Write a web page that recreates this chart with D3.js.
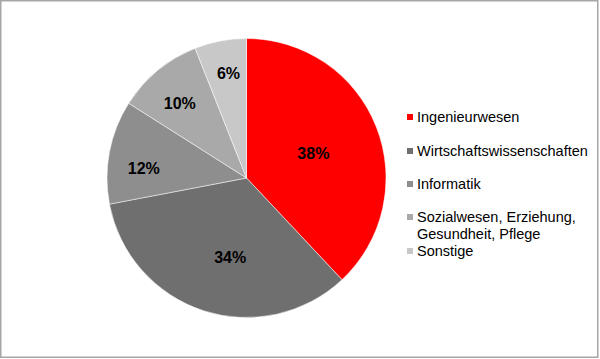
<!DOCTYPE html>
<html>
<head>
<meta charset="utf-8">
<script src="https://cdn.jsdelivr.net/npm/d3@7"></script>
<style>
  body { margin: 0; background: #fff; }
  svg { display: block; font-family: Arial, "Liberation Sans", sans-serif; }
</style>
</head>
<body>
<div id="pieChart"></div>
<script>
// chart data
var categories = ["Ingenieurwesen", "Wirtschaftswissenschaften", "Informatik",
                  "Sozialwesen, Erziehung, Gesundheit, Pflege", "Sonstige"];
var legendLines = [["Ingenieurwesen"], ["Wirtschaftswissenschaften"], ["Informatik"],
                   ["Sozialwesen, Erziehung,", "Gesundheit, Pflege"], ["Sonstige"]];
var shares = [38, 34, 12, 10, 6];
var colors = ["#ff0000", "#6f6f6f", "#8e8e8e", "#a9a9a9", "#c8c8c8"];

// where each percent label sits: fraction of radius, and a small angle shift (deg)
var labelRadius = [0.51, 0.58, 0.74, 0.72, 0.76];
var labelShift = [1.6, -6.4, -5.2, -2, 1];
// legend row centres
var legendY = [117, 151, 184, 217, 251];

var width = 600, height = 359,
    cx = 246.5, cy = 178, radius = 139.5;

var svg = d3.select("#pieChart")
  .append("svg")
    .attr("width", width)
    .attr("height", height);

// frame
svg.append("rect")
  .attr("x", 0.75).attr("y", 0.75)
  .attr("width", 597).attr("height", 356.5)
  .attr("fill", "#fff")
  .attr("stroke", "#a6a6a6")
  .attr("stroke-width", 1.5);

var data = categories.map(function(c, i) { return {name: c, value: shares[i], idx: i}; });

var pie = d3.pie()
  .sort(null)
  .value(function(d) { return d.value; });

var arc = d3.arc().innerRadius(0).outerRadius(radius);

var g = svg.append("g")
  .attr("transform", "translate(" + cx + "," + cy + ")");

var color = d3.scaleOrdinal().domain(categories).range(colors);

g.selectAll("path")
  .data(pie(data))
  .enter()
  .append("path")
    .attr("d", arc)
    .attr("fill", function(d) { return color(d.data.name); })
    .attr("stroke", "#fff")
    .attr("stroke-width", 0.5);

// percent labels
g.selectAll("text.pct")
  .data(pie(data))
  .enter()
  .append("text")
    .attr("class", "pct")
    .attr("transform", function(d) {
      var r = radius * labelRadius[d.data.idx];
      var a = (d.startAngle + d.endAngle) / 2 + labelShift[d.data.idx] * Math.PI / 180;
      return "translate(" + (Math.sin(a) * r) + "," + (-Math.cos(a) * r) + ")";
    })
    .attr("text-anchor", "middle")
    .attr("dy", "0.36em")
    .style("font-size", "16px")
    .style("font-weight", "bold")
    .style("fill", "#000")
    .text(function(d) { return d.data.value + "%"; });

// legend
var legend = svg.selectAll("g.legend")
  .data(data)
  .enter()
  .append("g")
    .attr("class", "legend")
    .attr("transform", function(d, i) { return "translate(407," + legendY[i] + ")"; });

legend.append("rect")
  .attr("x", 0).attr("y", -3)
  .attr("width", 6).attr("height", 6)
  .attr("fill", function(d) { return color(d.name); });

legend.append("text")
  .style("font-size", "14.5px")
  .style("fill", "#000")
  .selectAll("tspan")
  .data(function(d, i) { return legendLines[i]; })
  .enter()
  .append("tspan")
    .attr("x", 10)
    .attr("y", function(d, j) { return 5 + j * 17; })
    .text(function(d) { return d; });
</script>
</body>
</html>
